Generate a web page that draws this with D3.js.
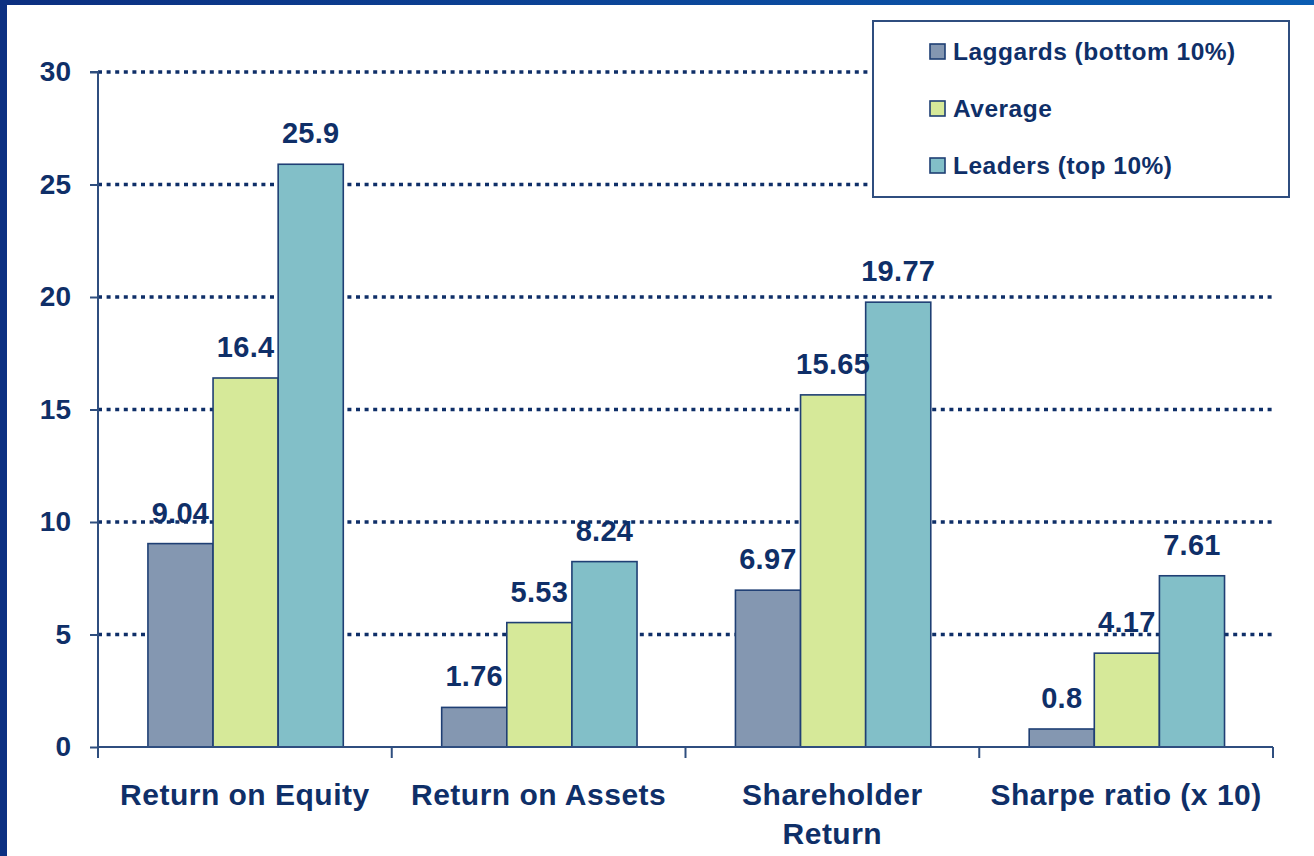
<!DOCTYPE html>
<html>
<head>
<meta charset="utf-8">
<script src="https://cdn.jsdelivr.net/npm/d3@7"></script>
<style>
  html, body { margin: 0; padding: 0; background: #ffffff; }
  svg { display: block; }
  text { font-family: "Liberation Sans", Arial, sans-serif; font-weight: bold; fill: #0f2f68; }
</style>
</head>
<body>
<svg id="chart" width="1314" height="856"></svg>
<script>
// Performance metrics by peer group
const categories = ["Return on Equity", "Return on Assets", "Shareholder Return", "Sharpe ratio (x 10)"];
const categoryLines = [["Return on Equity"], ["Return on Assets"], ["Shareholder", "Return"], ["Sharpe ratio (x 10)"]];
const seriesNames = ["Laggards (bottom 10%)", "Average", "Leaders (top 10%)"];
const laggards = [9.04, 1.76, 6.97, 0.8];
const average = [16.4, 5.53, 15.65, 4.17];
const leaders = [25.9, 8.24, 19.77, 7.61];
const yTicks = [0, 5, 10, 15, 20, 25, 30];

const seriesValues = [laggards, average, leaders];
const colors = ["#8497b1", "#d6e999", "#82bfc8"];
const ink = "#0f2f68";
const lineCol = "#2f4e7f";

const svg = d3.select("#chart");

// frame bands along the top and left edge
const defs = svg.append("defs");
const grad = defs.append("linearGradient").attr("id", "topBand").attr("x1", "0").attr("x2", "1");
grad.append("stop").attr("offset", "0").attr("stop-color", "#0c2f80");
grad.append("stop").attr("offset", "1").attr("stop-color", "#0b5db2");
svg.append("rect").attr("x", 0).attr("y", 0).attr("width", 1314).attr("height", 5).attr("fill", "url(#topBand)");
svg.append("rect").attr("x", 0).attr("y", 0).attr("width", 7).attr("height", 856).attr("fill", "#0c3082");

const x0 = 98, x1 = 1273, yBase = 747, yTop = 72;

const y = d3.scaleLinear().domain([0, 30]).range([yBase, yTop]);
const xGroup = d3.scaleBand().domain(categories).range([x0, x1]).paddingInner(0).paddingOuter(0);
const step = xGroup.bandwidth();
const xBar = d3.scaleBand().domain(seriesNames).range([step * 0.17, step * 0.835]).padding(0);

// dotted gridlines
svg.append("g").selectAll("line")
  .data(yTicks.filter(t => t > 0))
  .join("line")
  .attr("x1", x0).attr("x2", x1)
  .attr("y1", d => y(d)).attr("y2", d => y(d))
  .attr("stroke", "#0f2f68")
  .attr("stroke-width", 3.5)
  .attr("stroke-dasharray", "4 4.6");

// y axis
const yAxis = d3.axisLeft(y).tickValues(yTicks).tickSize(8).tickPadding(19).tickFormat(d3.format("d"));
const gy = svg.append("g").attr("transform", `translate(${x0},0)`).call(yAxis);
gy.select(".domain").attr("stroke", lineCol).attr("stroke-width", 2).attr("d", `M-8,${yTop}H0V${yBase + 11}`);
gy.selectAll(".tick line").attr("stroke", lineCol).attr("stroke-width", 2);
gy.selectAll(".tick text")
  .attr("fill", ink)
  .style("font-size", "28px")
  .style("font-weight", "bold")
  .style("font-family", "'Liberation Sans', Arial, sans-serif");

// bars
const groups = svg.append("g").selectAll("g")
  .data(categories)
  .join("g")
  .attr("transform", d => `translate(${xGroup(d)},0)`);

groups.each(function (cat, ci) {
  const g = d3.select(this);
  seriesNames.forEach((s, si) => {
    const v = seriesValues[si][ci];
    g.append("rect")
      .attr("x", xBar(s))
      .attr("y", y(v))
      .attr("width", xBar.bandwidth())
      .attr("height", y(0) - y(v))
      .attr("fill", colors[si])
      .attr("stroke", "#1f3f74")
      .attr("stroke-width", 1.6);
  });
});

// x axis baseline and boundary ticks
const xAxisG = svg.append("g");
xAxisG.append("line").attr("x1", x0).attr("x2", x1).attr("y1", yBase).attr("y2", yBase)
  .attr("stroke", lineCol).attr("stroke-width", 2);
const boundaries = categories.map(c => xGroup(c)).concat([x1]);
xAxisG.selectAll(".bt").data(boundaries).join("line")
  .attr("class", "bt")
  .attr("x1", d => d).attr("x2", d => d)
  .attr("y1", yBase).attr("y2", yBase + 11)
  .attr("stroke", lineCol).attr("stroke-width", 2);

// value labels
groups.each(function (cat, ci) {
  const g = d3.select(this);
  seriesNames.forEach((s, si) => {
    const v = seriesValues[si][ci];
    g.append("text")
      .attr("x", xBar(s) + xBar.bandwidth() / 2)
      .attr("y", y(v) - 21)
      .attr("text-anchor", "middle")
      .style("font-size", "29px")
      .style("letter-spacing", "0.3px")
      .text(String(v));
  });
});

// category labels
groups.each(function (cat, ci) {
  const t = d3.select(this).append("text")
    .attr("x", step / 2)
    .attr("y", 805)
    .attr("text-anchor", "middle")
    .style("font-size", "30px")
    .style("letter-spacing", "0.5px");
  categoryLines[ci].forEach((line, li) => {
    t.append("tspan").attr("x", step / 2).attr("dy", li === 0 ? 0 : 39).text(line);
  });
});

// legend
const legend = svg.append("g");
legend.append("rect")
  .attr("x", 873).attr("y", 21).attr("width", 416).attr("height", 176)
  .attr("fill", "#ffffff").attr("stroke", lineCol).attr("stroke-width", 2);
const rowY = [52, 109, 166];
seriesNames.forEach((s, i) => {
  legend.append("rect")
    .attr("x", 930).attr("y", rowY[i] - 8).attr("width", 15).attr("height", 15)
    .attr("fill", colors[i]).attr("stroke", "#1f3f74").attr("stroke-width", 1.6);
  legend.append("text")
    .attr("x", 953).attr("y", rowY[i] + 8)
    .style("font-size", "24.5px")
    .style("letter-spacing", "0.5px")
    .text(s);
});
</script>
</body>
</html>
